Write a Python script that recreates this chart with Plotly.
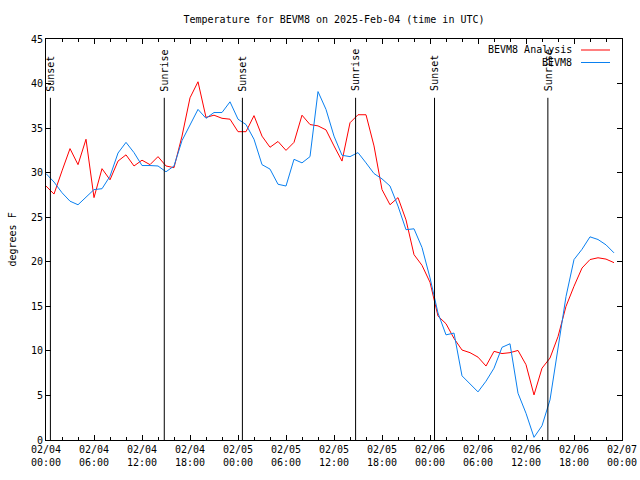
import pandas as pd
import plotly.graph_objects as go

# ---- data ----
start = "2025-02-04 00:00"
analysis_f = [28.5, 27.6, 30.2, 32.7, 30.9, 33.75, 27.2, 30.45, 29.2, 31.3, 32.0, 30.75,
              31.4, 30.9, 31.8, 30.75, 30.56, 34.1, 38.4, 40.2, 36.2, 36.45, 36.1, 36.0,
              34.6, 34.6, 36.4, 34.1, 32.85, 33.5, 32.5, 33.4, 36.45, 35.4, 35.25, 34.8,
              33.0, 31.3, 35.6, 36.5, 36.5, 33.0, 28.1, 26.4, 27.2, 24.7, 20.8, 19.6,
              17.7, 13.9, 13.05, 11.4, 10.1, 9.8, 9.3, 8.3, 9.95, 9.7, 9.8, 10.05,
              8.45, 5.06, 8.06, 9.2, 11.6, 15.0, 17.25, 19.3, 20.25, 20.45, 20.3, 19.9]
obs_f = [29.9, 28.95, 27.75, 26.8, 26.4, 27.2, 28.1, 28.2, 29.6, 32.2, 33.4, 32.25,
         30.8, 30.8, 30.75, 30.1, 30.75, 33.6, 35.4, 37.1, 36.1, 36.75, 36.75, 37.95,
         36.0, 35.4, 33.75, 30.9, 30.4, 28.7, 28.5, 31.5, 31.1, 31.8, 39.1, 37.1,
         34.1, 31.95, 31.8, 32.25, 31.1, 29.9, 29.3, 28.5, 26.25, 23.6, 23.7, 21.6,
         18.2, 14.25, 11.8, 12.0, 7.2, 6.3, 5.4, 6.6, 8.06, 10.4, 10.8, 5.25,
         3.0, 0.3, 1.6, 4.5, 10.1, 16.1, 20.25, 21.4, 22.8, 22.5, 21.9, 21.0]
times = pd.date_range(start, periods=len(analysis_f), freq="h")

event_names = ["Sunset", "Sunrise", "Sunset", "Sunrise", "Sunset", "Sunrise"]
event_times = ["2025-02-04 00:33", "2025-02-04 14:47", "2025-02-05 00:33",
               "2025-02-05 14:42", "2025-02-06 00:34", "2025-02-06 14:44"]

tick_vals = pd.date_range(start, "2025-02-07 00:00", freq="6h")
tick_text = ["02/04<br>00:00", "02/04<br>06:00", "02/04<br>12:00", "02/04<br>18:00",
             "02/05<br>00:00", "02/05<br>06:00", "02/05<br>12:00", "02/05<br>18:00",
             "02/06<br>00:00", "02/06<br>06:00", "02/06<br>12:00", "02/06<br>18:00",
             "02/07<br>00:00"]
minor_vals = pd.date_range(start, "2025-02-07 00:00", freq="2h")
y_ticks = [0, 5, 10, 15, 20, 25, 30, 35, 40, 45]

series_names = ["BEVM8 Analysis", "BEVM8"]
series_colors = ["#ff0000", "#0a80f0"]

FONT = "DejaVu Sans Mono"

fig = go.Figure()
fig.add_trace(go.Scatter(x=times, y=analysis_f, mode="lines", name=series_names[0],
                         line=dict(color=series_colors[0], width=1), showlegend=False))
fig.add_trace(go.Scatter(x=times, y=obs_f, mode="lines", name=series_names[1],
                         line=dict(color=series_colors[1], width=1), showlegend=False))

shapes = []
annotations = []
for name, t in zip(event_names, event_times):
    shapes.append(dict(type="line", xref="x", yref="y", x0=t, x1=t, y0=0, y1=38.4,
                       line=dict(color="black", width=1)))
    annotations.append(dict(x=t, y=38.9, xref="x", yref="y", text=name, textangle=-90,
                            showarrow=False, xanchor="center", yanchor="bottom",
                            font=dict(family=FONT, size=10, color="black")))

# legend (gnuplot style: text right, sample line after)
for i, (nm, col) in enumerate(zip(series_names, series_colors)):
    ypix = 50 + 12.5 * i
    yp = (440 - ypix) / 401
    annotations.append(dict(x=(574 - 46) / 576, y=yp, xref="paper", yref="paper",
                            text=nm, showarrow=False, xanchor="right", yanchor="middle",
                            font=dict(family=FONT, size=10, color="black")))
    shapes.append(dict(type="line", xref="paper", yref="paper",
                       x0=(581 - 46) / 576, x1=(610 - 46) / 576, y0=yp, y1=yp,
                       line=dict(color=col, width=1)))

annotations.append(dict(x=-34 / 576, y=0.5, xref="paper", yref="paper", text="degrees F",
                        textangle=-90, showarrow=False, xanchor="center", yanchor="middle",
                        font=dict(family=FONT, size=10, color="black")))

fig.update_layout(
    width=640, height=480,
    margin=dict(l=46, r=18, t=39, b=40, pad=0, autoexpand=False),
    paper_bgcolor="white", plot_bgcolor="white",
    title=dict(text="Temperature for BEVM8 on 2025-Feb-04 (time in UTC)",
               x=(46 + 576 / 2) / 640, xanchor="center", xref="container",
               y=1 - 19 / 480, yanchor="middle", yref="container",
               font=dict(family=FONT, size=10, color="black")),
    shapes=shapes, annotations=annotations,
    font=dict(family=FONT, size=10, color="black"),
)
fig.update_xaxes(
    type="date", range=[start, "2025-02-07 00:00"], automargin=False,
    tickmode="array", tickvals=tick_vals, ticktext=tick_text,
    ticks="inside", ticklen=5, tickcolor="black", tickwidth=1,
    minor=dict(tickvals=minor_vals, ticks="inside", ticklen=3, tickcolor="black"),
    showline=True, linecolor="black", linewidth=1, mirror="ticks",
    showgrid=False, zeroline=False,
    tickfont=dict(family=FONT, size=10, color="black"),
)
fig.update_yaxes(
    range=[0, 45], tickmode="array", tickvals=y_ticks, automargin=False,
    ticks="inside", ticklen=5, tickcolor="black", tickwidth=1,
    showline=True, linecolor="black", linewidth=1, mirror="ticks",
    showgrid=False, zeroline=False,
    tickfont=dict(family=FONT, size=10, color="black"),
)

fig.write_html("out.html",
               config={"displayModeBar": False},
               post_script="document.body.style.margin='0';"
                           "document.body.style.overflow='hidden';")
